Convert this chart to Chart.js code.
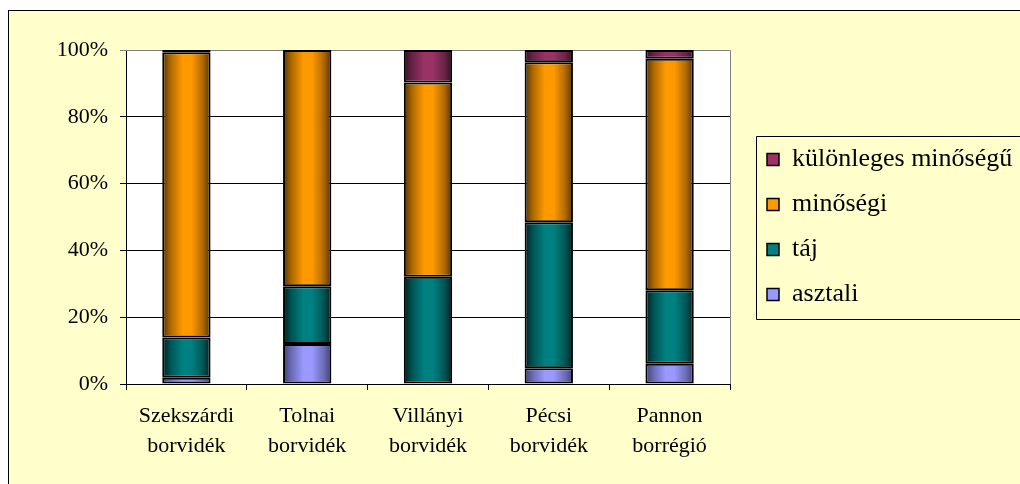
<!DOCTYPE html>
<html>
<head>
<meta charset="utf-8">
<script src="https://cdn.jsdelivr.net/npm/chart.js@4.4.1/dist/chart.umd.min.js"></script>
<style>
  html, body { margin: 0; padding: 0; background: #ffffff; overflow: hidden; width: 1020px; height: 484px; }
  #frame { position: absolute; left: 8px; top: 10px; width: 1100px; height: 520px; border: 1px solid #000; background: #FFFFCC; overflow: hidden; }
  #c { display: block; }
</style>
</head>
<body>
<div id="frame"><canvas id="c" width="1060" height="480"></canvas></div>
<script>
// ---- data ----
const categories = [['Szekszárdi', 'borvidék'], ['Tolnai', 'borvidék'], ['Villányi', 'borvidék'], ['Pécsi', 'borvidék'], ['Pannon', 'borrégió']];
const seriesNames = ['asztali', 'táj', 'minőségi', 'különleges minőségű'];
const asztali = [1.9, 12.0, 0, 4.7, 6.1];
const taj = [12.0, 17.3, 32.1, 43.7, 22.0];
const minosegi = [85.4, 70.7, 58.2, 47.9, 69.3];
const kulonleges = [0.7, 0, 9.7, 3.7, 2.6];
const yTickSuffix = '%';

// ---- styles ----
const baseColors = ['#9999FF', '#008080', '#FF9900', '#993366'];
const midColors = ['#6c6cb8', '#005656', '#b06a00', '#6a2347'];
const darkColors = ['#3f3f70', '#001f1f', '#553300', '#33101f'];
const BAR_PCT = 0.4;
const LEGEND_W = 290;
const SERIF = '"Liberation Serif", "Times New Roman", serif';

function barGradient(i) {
  return function (c) {
    const chart = c.chart;
    const xs = chart.scales && chart.scales.x;
    if (!xs || c.type !== 'data' || !xs.width) return baseColors[i];
    const cx = xs.getPixelForValue(c.dataIndex);
    const w = (xs.width / categories.length) * BAR_PCT;
    const g = chart.ctx.createLinearGradient(cx - w / 2, 0, cx + w / 2, 0);
    g.addColorStop(0, darkColors[i]);
    g.addColorStop(0.18, midColors[i]);
    g.addColorStop(0.42, baseColors[i]);
    g.addColorStop(0.6, baseColors[i]);
    g.addColorStop(0.84, midColors[i]);
    g.addColorStop(1, darkColors[i]);
    return g;
  };
}

const seriesData = [asztali, taj, minosegi, kulonleges];
const datasets = seriesData.map((d, i) => ({
  label: seriesNames[i],
  data: d,
  backgroundColor: barGradient(i),
  borderColor: '#000000',
  borderWidth: 2,
  borderSkipped: false,
  categoryPercentage: 1.0,
  barPercentage: BAR_PCT
}));

// widen the legend box so its long label is not clipped
const legendWidthPlugin = {
  id: 'legendWidth',
  beforeLayout(chart) {
    const lg = chart.legend;
    if (lg && !lg._wPatched) {
      const origFit = lg.fit;
      lg.fit = function () {
        origFit.call(this);
        if (this.options.display && !this.isHorizontal()) this.width = LEGEND_W;
      };
      lg._wPatched = true;
    }
  }
};

const plotAreaPlugin = {
  id: 'plotArea',
  beforeDraw(chart) {
    const { ctx, chartArea: a } = chart;
    ctx.save();
    ctx.fillStyle = '#ffffff';
    ctx.fillRect(a.left, a.top, a.right - a.left, a.bottom - a.top);
    ctx.restore();
  },
  beforeDatasetsDraw(chart) {
    const { ctx, chartArea: a } = chart;
    ctx.save();
    ctx.strokeStyle = '#808080';
    ctx.lineWidth = 1;
    ctx.beginPath();
    ctx.moveTo(a.left, Math.round(a.top) + 0.5);
    ctx.lineTo(Math.round(a.right) + 0.5, Math.round(a.top) + 0.5);
    ctx.lineTo(Math.round(a.right) + 0.5, a.bottom);
    ctx.stroke();
    ctx.restore();
  },
  afterDraw(chart) {
    const lg = chart.legend;
    if (!lg || !lg.legendHitBoxes || !lg.legendHitBoxes.length) return;
    const hb = lg.legendHitBoxes;
    const top = Math.min(...hb.map(h => h.top));
    const bottom = Math.max(...hb.map(h => h.top + h.height));
    const left = Math.min(...hb.map(h => h.left));
    const ctx = chart.ctx;
    ctx.save();
    ctx.strokeStyle = '#000000';
    ctx.lineWidth = 1;
    const x = Math.round(left - 11) + 0.5;
    const y1 = Math.round(top - 10.5) + 0.5;
    const y2 = Math.round(bottom + 11.5) + 0.5;
    ctx.beginPath();
    ctx.moveTo(chart.width + 5, y1);
    ctx.lineTo(x, y1);
    ctx.lineTo(x, y2);
    ctx.lineTo(chart.width + 5, y2);
    ctx.stroke();
    ctx.restore();
  }
};

new Chart(document.getElementById('c'), {
  type: 'bar',
  data: { labels: categories, datasets: datasets },
  plugins: [legendWidthPlugin, plotAreaPlugin],
  options: {
    responsive: false,
    animation: false,
    layout: { padding: { left: 0, top: 39, right: 31, bottom: 27 } },
    scales: {
      x: {
        stacked: true,
        offset: true,
        afterFit(s) { s.height = 80; },
        grid: { display: true, drawOnChartArea: false, drawTicks: true, tickLength: 6, color: '#000000', offset: true },
        border: { display: true, color: '#000000', width: 1 },
        ticks: {
          color: '#000000', padding: 11, maxRotation: 0, autoSkip: false,
          font: { family: SERIF, size: 22, lineHeight: 1.36 }
        }
      },
      y: {
        stacked: true,
        min: 0, max: 100,
        afterFit(s) { s.width = 117; },
        grid: {
          color: (c) => (c.tick && c.tick.value === 100 ? '#808080' : '#000000'),
          lineWidth: 1, drawTicks: true, tickLength: 6
        },
        border: { display: true, color: '#000000', width: 1 },
        ticks: {
          stepSize: 20, color: '#000000', padding: 12,
          callback: (v) => v + yTickSuffix,
          font: { family: SERIF, size: 22 }
        }
      },
      yr: {
        type: 'linear',
        position: 'right',
        display: true,
        afterFit(s) { s.width = 18; },
        grid: { display: false, drawTicks: false },
        border: { display: false },
        ticks: { display: false }
      }
    },
    plugins: {
      tooltip: { enabled: false },
      legend: {
        position: 'right',
        fullSize: false,
        reverse: true,
        title: { display: true, text: '', padding: 5, font: { size: 10, lineHeight: 1 } },
        labels: {
          boxWidth: 12, boxHeight: 12, padding: 19, color: '#000000',
          font: { family: SERIF, size: 26 },
          generateLabels(chart) {
            return chart.data.datasets.map((ds, i) => ({
              text: ds.label, fillStyle: baseColors[i], strokeStyle: '#000000',
              lineWidth: 1.5, hidden: false, datasetIndex: i, fontColor: '#000000'
            }));
          }
        }
      }
    }
  }
});
</script>
</body>
</html>
